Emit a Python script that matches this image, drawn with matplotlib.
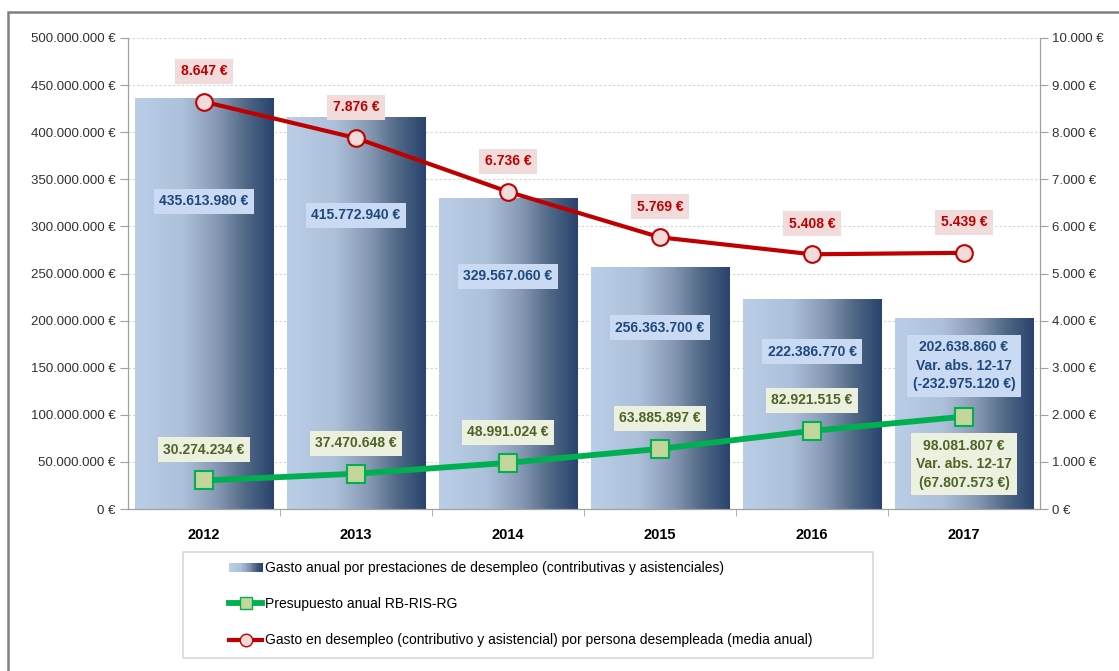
import matplotlib.pyplot as plt
import numpy as np
from matplotlib.patches import Rectangle
from matplotlib.lines import Line2D
from matplotlib.legend_handler import HandlerBase
from matplotlib.colors import LinearSegmentedColormap
from matplotlib.ticker import FuncFormatter, FixedLocator

plt.rcParams['font.family'] = ['Liberation Sans', 'DejaVu Sans']

years = ['2012', '2013', '2014', '2015', '2016', '2017']
gasto_anual = [435613980, 415772940, 329567060, 256363700, 222386770, 202638860]
presupuesto = [30274234, 37470648, 48991024, 63885897, 82921515, 98081807]
gasto_persona = [8647, 7876, 6736, 5769, 5408, 5439]

legend_labels = [
    'Gasto anual por prestaciones de desempleo (contributivas y asistenciales)',
    'Presupuesto anual RB-RIS-RG',
    'Gasto en desempleo (contributivo y asistencial) por persona desempleada (media anual)',
]


def eur(v):
    return f"{v:,.0f} €".replace(',', '.')


grad = LinearSegmentedColormap.from_list(
    'bar', [(0, '#BACEE7'), (0.35, '#ADC0D9'), (0.6, '#8597B2'),
            (0.8, '#506886'), (1, '#28436E')])


class HandlerGradient(HandlerBase):
    def create_artists(self, legend, orig_handle, xdescent, ydescent,
                       width, height, fontsize, trans):
        n = 20
        arts = []
        for i in range(n):
            r = Rectangle((-xdescent + width * i / n, -ydescent + height * 0.05),
                          width / n + 0.3, height * 0.9,
                          facecolor=grad(i / (n - 1)), edgecolor='none',
                          transform=trans)
            arts.append(r)
        return arts


fig = plt.figure(figsize=(11.19, 6.71), dpi=100)
ax = fig.add_axes([128 / 1119, 1 - 509 / 671, 912 / 1119, 471 / 671])
ax2 = ax.twinx()

x = np.arange(len(years))
bw = 0.91
ax.set_xlim(-0.5, len(years) - 0.5)
ax.set_ylim(0, 500e6)
ax2.set_ylim(0, 10000)

# barras con degradado
gimg = np.linspace(0, 1, 256).reshape(1, -1)
for xi, v in zip(x, gasto_anual):
    ax.imshow(gimg, cmap=grad, aspect='auto', extent=[xi - bw / 2, xi + bw / 2, 0, v],
              zorder=2, interpolation='bicubic')

ax.set_yticks(np.arange(0, 500e6 + 1, 50e6))
ax.yaxis.grid(True, linestyle=(0, (2, 2)), color='#D3D3D3', linewidth=0.8)
ax.set_axisbelow(True)
ax.yaxis.set_major_formatter(FuncFormatter(lambda v, p: eur(v)))
ax2.set_yticks(np.arange(0, 10001, 1000))
ax2.yaxis.set_major_formatter(FuncFormatter(lambda v, p: eur(v)))

ax.set_xticks(x)
ax.set_xticklabels(years, fontweight='bold', fontsize=10.5)
ax.xaxis.set_minor_locator(FixedLocator(np.arange(0.5, len(years) - 0.5, 1)))
ax.tick_params(axis='x', which='major', length=0, pad=14)
ax.tick_params(axis='x', which='minor', length=5, color='#A0A0A0')
ax.tick_params(axis='y', length=6, color='#A0A0A0', labelsize=9.5, labelcolor='#303030', pad=3)
ax2.tick_params(axis='y', length=6, color='#A0A0A0', labelsize=9.5, labelcolor='#303030', pad=3)

for a in (ax, ax2):
    a.spines['top'].set_visible(False)
    for s in ('left', 'right', 'bottom'):
        a.spines[s].set_color('#A0A0A0')

ax.plot(x, presupuesto, color='#00B050', lw=4.2, marker='s', markersize=13,
        markerfacecolor='#C3D69B', markeredgecolor='#00B050', markeredgewidth=1.5, zorder=5)
ax2.plot(x, gasto_persona, color='#C00000', lw=3, marker='o', markersize=12,
         markerfacecolor='#F2DCDB', markeredgecolor='#C00000', markeredgewidth=1.5, zorder=5)

var_g = gasto_anual[-1] - gasto_anual[0]
var_p = presupuesto[-1] - presupuesto[0]
lab_font = dict(fontsize=10, fontweight='bold', linespacing=1.4, zorder=6)

for i, v in enumerate(gasto_anual):
    if i == len(gasto_anual) - 1:
        txt = f"{eur(v)}\nVar. abs. 12-17\n({var_g:,.0f} €)".replace(',', '.')
    else:
        txt = eur(v)
    ax.text(x[i], v * 0.75, txt, ha='center', va='center', color='#1F497D', **lab_font,
            bbox=dict(boxstyle='square,pad=0.4', facecolor='#C9DAF2', edgecolor='none'))

for i, v in enumerate(presupuesto):
    if i == len(presupuesto) - 1:
        txt = f"{eur(v)}\nVar. abs. 12-17\n({var_p:,.0f} €)".replace(',', '.')
        ax.annotate(txt, (x[i], v), xytext=(0, -16), textcoords='offset points',
                    ha='center', va='top', color='#4F6228', **lab_font,
                    bbox=dict(boxstyle='square,pad=0.4', facecolor='#EBF1DE', edgecolor='none'))
    else:
        ax.annotate(eur(v), (x[i], v), xytext=(0, 22), textcoords='offset points',
                    ha='center', va='center', color='#4F6228', **lab_font,
                    bbox=dict(boxstyle='square,pad=0.4', facecolor='#EBF1DE', edgecolor='none'))

for i, v in enumerate(gasto_persona):
    ax2.annotate(eur(v), (x[i], v), xytext=(0, 22), textcoords='offset points',
                 ha='center', va='center', color='#C00000', **lab_font,
                 bbox=dict(boxstyle='square,pad=0.4', facecolor='#F2DCDB', edgecolor='none'))

# leyenda
fig.patches.append(Rectangle((183 / 1119, 1 - 658 / 671), 690 / 1119, 106 / 671,
                             transform=fig.transFigure, facecolor='white',
                             edgecolor='#D9D9D9', lw=1.2))
h_bar = Rectangle((0, 0), 1, 1)
h_green = Line2D([], [], color='#00B050', lw=4.2, marker='s', markersize=9,
                 markerfacecolor='#C3D69B', markeredgecolor='#00B050')
h_red = Line2D([], [], color='#C00000', lw=3, marker='o', markersize=9,
               markerfacecolor='#F2DCDB', markeredgecolor='#C00000')
fig.legend([h_bar, h_green, h_red], legend_labels,
           handler_map={Rectangle: HandlerGradient()},
           loc='upper left', bbox_to_anchor=(229 / 1119, 1 - 561 / 671),
           frameon=False, fontsize=10, handlelength=2.4, handletextpad=0.2,
           labelspacing=1.6, borderpad=0, borderaxespad=0)

# marco exterior (solo visibles borde superior e izquierdo)
fig.patches.append(Rectangle((8 / 1119, -0.1), 1.2, 1.1 - 12 / 671,
                             transform=fig.transFigure, facecolor='none',
                             edgecolor='#808080', lw=1.8))

fig.savefig('out.png', dpi=100)
